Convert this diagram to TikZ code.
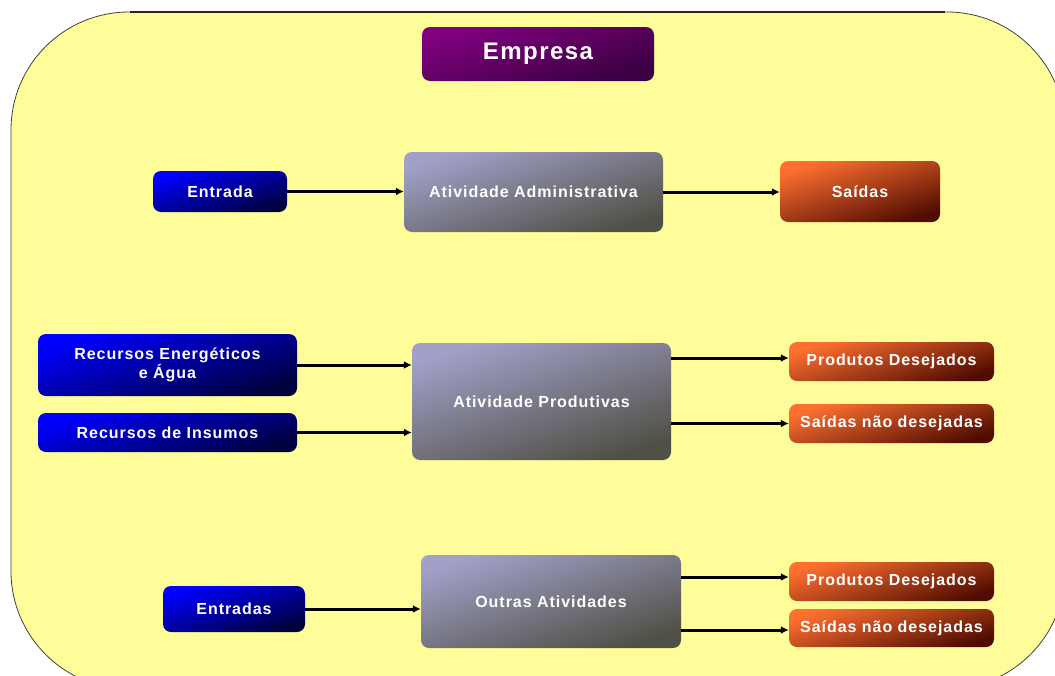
\documentclass[tikz,border=0pt]{standalone}
\usepackage{fontspec}
\setmainfont{Liberation Sans}
\newfontfamily\boxfont[LetterSpace=6]{Liberation Sans}
\usetikzlibrary{arrows.meta}
\definecolor{bgyellow}{RGB}{255,253,153}
\definecolor{bluetl}{RGB}{0,0,255}
\definecolor{bluebr}{RGB}{0,0,60}
\definecolor{graytl}{RGB}{160,160,200}
\definecolor{graybr}{RGB}{80,80,70}
\definecolor{orangetl}{RGB}{255,112,48}
\definecolor{orangebr}{RGB}{80,12,0}
\definecolor{purpletl}{RGB}{128,0,128}
\definecolor{purplebr}{RGB}{58,0,64}
\tikzset{
  basebox/.style={rounded corners=8pt, inner sep=0pt, align=center, text=white,
    font=\boxfont\bfseries\fontsize{16}{17}\selectfont},
  bluebox/.style={basebox, top color=bluetl, bottom color=bluebr, shading angle=18},
  graybox/.style={basebox, top color=graytl, bottom color=graybr, shading angle=18},
  orangebox/.style={basebox, top color=orangetl, bottom color=orangebr, shading angle=18},
  purplebox/.style={basebox, top color=purpletl, bottom color=purplebr, shading angle=18,
    font=\boxfont\bfseries\fontsize{24}{26}\selectfont},
  flow/.style={line width=3pt, -{Latex[length=8pt,width=8pt]}},
}
\begin{document}
\begin{tikzpicture}[x=1pt,y=-1pt]
\useasboundingbox (0,0) rectangle (1055,675);
\clip (0,0) rectangle (1055,675);
\path[fill=bgyellow, draw=black!75, line width=0.8pt, rounded corners=118pt] (11,12) rectangle (1065,689);
\draw[line width=2.5pt, black!85] (130,12) -- (945,12);

\node[purplebox, minimum width=232pt, minimum height=54pt] (empresa) at (538,54) {Empresa};

\node[bluebox, minimum width=134pt, minimum height=41pt] (entrada) at (220,191.5) {Entrada};
\node[graybox, minimum width=259pt, minimum height=80pt] (adm) at (533.5,192) {Atividade Administrativa};
\node[orangebox, minimum width=160pt, minimum height=61pt] (saidas) at (860,191.5) {Saídas};

\node[bluebox, minimum width=259pt, minimum height=62pt] (recen) at (167.5,365) {Recursos Energéticos\\e Água};
\node[bluebox, minimum width=259pt, minimum height=39pt] (recins) at (167.5,432.5) {Recursos de Insumos};
\node[graybox, minimum width=259pt, minimum height=117pt] (prod) at (541.5,401.5) {Atividade Produtivas};
\node[orangebox, minimum width=205pt, minimum height=39pt] (pd1) at (891.5,361.5) {Produtos Desejados};
\node[orangebox, minimum width=205pt, minimum height=39pt] (sn1) at (891.5,423.5) {Saídas não desejadas};

\node[bluebox, minimum width=142pt, minimum height=46pt] (entradas) at (234,609) {Entradas};
\node[graybox, minimum width=260pt, minimum height=93pt] (outras) at (551,601.5) {Outras Atividades};
\node[orangebox, minimum width=205pt, minimum height=39pt] (pd2) at (891.5,581.5) {Produtos Desejados};
\node[orangebox, minimum width=205pt, minimum height=38pt] (sn2) at (891.5,628) {Saídas não desejadas};

\draw[flow] (entrada.east) -- (entrada.east -| adm.west);
\draw[flow] (adm.east) -- (adm.east -| saidas.west);

\draw[flow] (recen.east) -- (recen.east -| prod.west);
\draw[flow] (recins.east) -- (recins.east -| prod.west);
\coordinate (p1) at ([yshift=3.5pt]pd1.west);
\draw[flow] (prod.east |- p1) -- (p1);
\draw[flow] (prod.east |- sn1.west) -- (sn1.west);

\draw[flow] (entradas.east) -- (entradas.east -| outras.west);
\coordinate (p2) at ([yshift=4.5pt]pd2.west);
\draw[flow] (outras.east |- p2) -- (p2);
\coordinate (s2) at ([yshift=-2pt]sn2.west);
\draw[flow] (outras.east |- s2) -- (s2);
\end{tikzpicture}
\end{document}
